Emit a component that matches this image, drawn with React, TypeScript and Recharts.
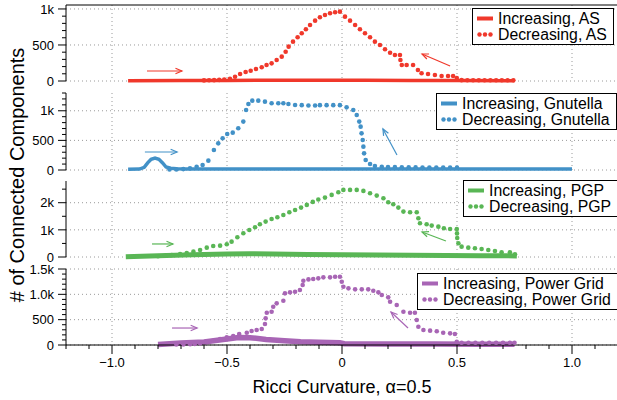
import React from "react"
import { CartesianGrid, Legend, Line, LineChart, ReferenceLine, XAxis, YAxis } from "recharts"

const FONT = "'Liberation Sans', Arial, Helvetica, sans-serif"

// shared x axis
const xMajor = [-1, -0.5, 0, 0.5, 1]
const xMajorLabels = ["\u22121.0", "\u22120.5", "0", "0.5", "1.0"]
const xTicks = [-1.2, -1.1, -1, -0.9, -0.8, -0.7, -0.6, -0.5, -0.4, -0.3, -0.2, -0.1, 0, 0.1, 0.2, 0.3, 0.4, 0.5, 0.6, 0.7, 0.8, 0.9, 1, 1.1, 1.2]

// AS
const asIncX = [-0.93, -0.7, -0.5, -0.3, -0.1, 0.1, 0.3, 0.5, 0.75]
const asIncY = [4, 6, 8, 10, 12, 10, 8, 6, 4]
const asDecX = [-0.6, -0.578, -0.556, -0.534, -0.512, -0.487, -0.465, -0.443, -0.419, -0.397, -0.374, -0.349, -0.328, -0.306, -0.284, -0.262, -0.245, -0.232, -0.213, -0.193, -0.175, -0.157, -0.139, -0.117, -0.096, -0.074, -0.052, -0.03, -0.009, 0.013, 0.035, 0.057, 0.078, 0.1, 0.122, 0.143, 0.165, 0.187, 0.209, 0.23, 0.252, 0.254, 0.26, 0.281, 0.309, 0.33, 0.346, 0.374, 0.404, 0.433, 0.461, 0.483, 0.499, 0.52, 0.545, 0.57, 0.595, 0.62, 0.645, 0.67, 0.695, 0.72, 0.745]
const asDecY = [8, 10, 12, 15, 20, 32, 60, 97, 125, 143, 167, 190, 222, 245, 292, 338, 407, 477, 546, 607, 662, 718, 778, 838, 885, 917, 940, 954, 963, 893, 838, 778, 718, 662, 607, 546, 500, 440, 393, 361, 361, 292, 222, 222, 222, 153, 107, 97, 83, 69, 69, 69, 42, 12, 10, 10, 10, 10, 10, 10, 10, 10, 10]
const asYTicks = [0, 100, 200, 300, 400, 500, 600, 700, 800, 900, 1000]
const asYMajor = [0, 500, 1000]
const asYLabels = ["0", "500", "1k"]
const asArrows = [[-0.848, 139, -0.696, 139], [0.47, 208, 0.348, 375]]

// Gnutella
const gnIncX = [-0.93, -0.88, -0.86, -0.845, -0.83, -0.813, -0.796, -0.78, -0.765, -0.745, -0.72, -0.68, -0.6, -0.3, 0, 0.3, 0.6, 1.0]
const gnIncY = [14, 16, 45, 120, 180, 200, 180, 120, 50, 30, 22, 18, 15, 15, 15, 15, 15, 15]
const gnDecX = [-0.75, -0.72, -0.69, -0.661, -0.632, -0.606, -0.581, -0.557, -0.538, -0.519, -0.499, -0.475, -0.451, -0.429, -0.417, -0.407, -0.39, -0.364, -0.335, -0.306, -0.277, -0.255, -0.233, -0.204, -0.175, -0.146, -0.117, -0.096, -0.067, -0.038, -0.009, 0.02, 0.049, 0.064, 0.075, 0.081, 0.085, 0.09, 0.093, 0.096, 0.103, 0.122, 0.143, 0.173, 0.2, 0.23, 0.26, 0.29, 0.32, 0.35, 0.38, 0.41, 0.44, 0.47, 0.5]
const gnDecY = [8, 10, 15, 28, 56, 84, 158, 338, 450, 535, 608, 631, 704, 817, 1014, 1115, 1171, 1171, 1154, 1126, 1126, 1126, 1115, 1098, 1095, 1090, 1090, 1095, 1095, 1095, 1095, 1058, 1014, 929, 817, 732, 619, 507, 394, 281, 169, 101, 68, 56, 50, 48, 46, 45, 44, 43, 42, 42, 41, 40, 40]
const gnYTicks = [0, 100, 200, 300, 400, 500, 600, 700, 800, 900, 1000, 1100, 1200, 1300]
const gnYMajor = [0, 500, 1000]
const gnYLabels = ["0", "500", "1k"]
const gnArrows = [[-0.857, 304, -0.717, 304], [0.239, 253, 0.178, 693]]

// PGP
const pgIncX = [-0.94, -0.8, -0.65, -0.5, -0.4, -0.3, -0.15, 0, 0.15, 0.3, 0.45, 0.6, 0.76]
const pgIncY = [10, 50, 85, 110, 120, 115, 95, 80, 70, 62, 55, 48, 40]
const pgDecX = [-0.8, -0.77, -0.74, -0.704, -0.675, -0.646, -0.617, -0.588, -0.56, -0.53, -0.501, -0.48, -0.455, -0.429, -0.403, -0.378, -0.357, -0.332, -0.306, -0.281, -0.255, -0.229, -0.204, -0.178, -0.153, -0.127, -0.103, -0.074, -0.045, -0.016, 0.006, 0.035, 0.064, 0.093, 0.122, 0.151, 0.18, 0.201, 0.223, 0.245, 0.267, 0.296, 0.325, 0.332, 0.339, 0.368, 0.39, 0.419, 0.443, 0.47, 0.499, 0.5, 0.501, 0.506, 0.52, 0.549, 0.578, 0.607, 0.636, 0.665, 0.694, 0.73, 0.752]
const pgDecY = [30, 45, 70, 111, 148, 197, 258, 344, 406, 418, 467, 566, 726, 873, 996, 1095, 1205, 1304, 1402, 1464, 1550, 1648, 1734, 1820, 1919, 2030, 2120, 2189, 2288, 2386, 2472, 2472, 2472, 2435, 2349, 2263, 2165, 2017, 1943, 1820, 1673, 1648, 1648, 1427, 1243, 1205, 1156, 1119, 1058, 1033, 1033, 870, 700, 504, 381, 344, 320, 295, 258, 221, 172, 172, 98]
const pgYTicks = [0, 500, 1000, 1500, 2000, 2500]
const pgYMajor = [0, 1000, 2000]
const pgYLabels = ["0", "1k", "2k"]
const pgArrows = [[-0.826, 480, -0.735, 480], [0.452, 590, 0.348, 922]]

// Power Grid
const pwIncX = [-0.8, -0.7, -0.6, -0.5, -0.45, -0.4, -0.33, -0.25, -0.18, -0.1, -0.01, 0.01, 0.2, 0.4, 0.6, 0.75]
const pwIncY = [10, 40, 60, 120, 150, 145, 110, 85, 65, 55, 45, 25, 20, 18, 15, 15]
const pwDecX = [-0.72, -0.69, -0.66, -0.64, -0.617, -0.588, -0.56, -0.53, -0.501, -0.473, -0.447, -0.414, -0.393, -0.371, -0.349, -0.335, -0.332, -0.327, -0.306, -0.299, -0.284, -0.255, -0.248, -0.226, -0.204, -0.183, -0.171, -0.168, -0.146, -0.125, -0.103, -0.081, -0.052, -0.03, -0.009, -0.001, 0.006, 0.028, 0.057, 0.086, 0.114, 0.136, 0.158, 0.173, 0.201, 0.209, 0.238, 0.267, 0.296, 0.317, 0.325, 0.332, 0.354, 0.383, 0.412, 0.44, 0.47, 0.491, 0.499, 0.52, 0.55, 0.58, 0.61, 0.64, 0.67, 0.7, 0.73, 0.75]
const pwDecY = [10, 12, 15, 22, 33, 55, 85, 115, 151, 177, 217, 243, 276, 296, 316, 414, 526, 637, 657, 756, 822, 874, 1019, 1039, 1052, 1085, 1183, 1268, 1295, 1302, 1315, 1335, 1335, 1348, 1348, 1249, 1150, 1118, 1098, 1098, 1098, 1071, 1039, 986, 940, 854, 789, 657, 637, 637, 493, 361, 296, 283, 270, 243, 230, 217, 65, 45, 45, 45, 45, 45, 45, 45, 45, 45]
const pwYTicks = [0, 100, 200, 300, 400, 500, 600, 700, 800, 900, 1000, 1100, 1200, 1300, 1400, 1500]
const pwYMajor = [0, 500, 1000, 1500]
const pwYLabels = ["0", "500", "1.0k", "1.5k"]
const pwArrows = [[-0.739, 335, -0.63, 335], [0.287, 335, 0.213, 651]]

const zip = (xs: number[], ys: number[]) => xs.map((x, i) => ({ x, y: ys[i] }))

function YTick({ x, y, payload, majors, labels }: any) {
  const i = majors.indexOf(payload.value)
  const major = i >= 0
  return (
    <g>
      <line x1={x} y1={y} x2={x - (major ? 8 : 4)} y2={y} stroke="#000" strokeWidth={1} />
      {major && (
        <text x={x - 12} y={y} dy="0.36em" textAnchor="end" fontSize={13} fill="#000" fontFamily={FONT}>
          {labels[i]}
        </text>
      )}
    </g>
  )
}

function XTick({ x, y, payload }: any) {
  const i = xMajor.indexOf(payload.value)
  const major = i >= 0
  return (
    <g>
      <line x1={x} y1={y} x2={x} y2={y + (major ? 9 : 4)} stroke="#000" strokeWidth={1} />
      {major && (
        <text x={x} y={y + 17} dy="0.36em" textAnchor="middle" fontSize={13} fill="#000" fontFamily={FONT}>
          {xMajorLabels[i]}
        </text>
      )}
    </g>
  )
}

function Arrow({ x1, y1, x2, y2, stroke }: any) {
  const a = Math.atan2(y2 - y1, x2 - x1)
  const h = 7
  const p1 = [x2 - h * Math.cos(a - 0.4), y2 - h * Math.sin(a - 0.4)]
  const p2 = [x2 - h * Math.cos(a + 0.4), y2 - h * Math.sin(a + 0.4)]
  return (
    <g>
      <line x1={x1} y1={y1} x2={x2} y2={y2} stroke={stroke} strokeWidth={1.2} />
      <polyline points={`${p1[0]},${p1[1]} ${x2},${y2} ${p2[0]},${p2[1]}`} fill="none" stroke={stroke} strokeWidth={1.2} />
    </g>
  )
}

function LegendBox({ color, name }: { color: string; name: string }) {
  return (
    <div
      style={{
        border: "1px solid #000",
        background: "#fff",
        padding: "2px 6px 2px 4px",
        fontFamily: FONT,
        fontSize: 15.8,
        lineHeight: "15.5px",
        color: "#000",
        whiteSpace: "nowrap",
      }}
    >
      <div style={{ display: "flex", alignItems: "center" }}>
        <svg width={16} height={15}>
          <rect x={0} y={5.5} width={16} height={4} fill={color} />
        </svg>
        <span style={{ marginLeft: 5 }}>Increasing, {name}</span>
      </div>
      <div style={{ display: "flex", alignItems: "center" }}>
        <svg width={16} height={15}>
          <circle cx={2.5} cy={7.5} r={2.2} fill={color} />
          <circle cx={8} cy={7.5} r={2.2} fill={color} />
          <circle cx={13.5} cy={7.5} r={2.2} fill={color} />
        </svg>
        <span style={{ marginLeft: 5 }}>Decreasing, {name}</span>
      </div>
    </div>
  )
}

type PanelProps = {
  top: number
  plotH: number
  yMax: number
  yTicks: number[]
  yMajor: number[]
  yLabels: string[]
  color: string
  name: string
  incX: number[]
  incY: number[]
  incWidth: number
  decX: number[]
  decY: number[]
  arrows: number[][]
  legendLeft: number
  legendTop: number
  bottom?: boolean
  frameTop?: boolean
}

function Panel(p: PanelProps) {
  const mt = 10
  const mb = p.bottom ? 0 : 7
  const xh = p.bottom ? 55 : 0
  return (
    <div style={{ position: "absolute", left: 0, top: p.top - mt }}>
      <LineChart width={618} height={mt + p.plotH + mb + xh} margin={{ top: mt, right: 0, bottom: mb, left: 0 }}>
        <CartesianGrid
          horizontal
          vertical
          horizontalValues={p.yMajor}
          verticalValues={xMajor}
          stroke="#9a9a9a"
          strokeDasharray="1 3"
        />
        <XAxis
          type="number"
          dataKey="x"
          domain={[-1.2, 1.2]}
          ticks={xTicks}
          interval={0}
          hide={!p.bottom}
          height={xh}
          tickSize={0}
          tickMargin={0}
          tickLine={false}
          axisLine={{ stroke: "#000" }}
          tick={<XTick />}
          allowDataOverflow
          label={(lp: any) => {
            const vb = lp.viewBox
            return (
              <text x={vb.x + vb.width / 2} y={vb.y + 48} textAnchor="middle" fontSize={18} fill="#000" fontFamily={FONT}>
                Ricci Curvature, α=0.5
              </text>
            )
          }}
        />
        <YAxis
          type="number"
          width={66}
          domain={[0, p.yMax]}
          ticks={p.yTicks}
          interval={0}
          tickSize={0}
          tickMargin={0}
          tickLine={false}
          axisLine={{ stroke: "#000" }}
          tick={(tp: any) => <YTick {...tp} majors={p.yMajor} labels={p.yLabels} />}
        />
        {p.frameTop && <ReferenceLine y={p.yMax} stroke="#000" strokeWidth={1} ifOverflow="visible" />}
        <Line
          data={zip(p.incX, p.incY)}
          dataKey="y"
          type="linear"
          stroke={p.color}
          strokeWidth={p.incWidth}
          dot={false}
          activeDot={false}
          isAnimationActive={false}
        />
        <Line
          data={zip(p.decX, p.decY)}
          dataKey="y"
          stroke="none"
          dot={{ r: 2.3, fill: p.color, stroke: "none", strokeWidth: 0 }}
          activeDot={false}
          isAnimationActive={false}
        />
        {p.arrows.map((a, i) => (
          <ReferenceLine
            key={i}
            segment={[
              { x: a[0], y: a[1] },
              { x: a[2], y: a[3] },
            ]}
            stroke={p.color}
            ifOverflow="visible"
            shape={(sp: any) => <Arrow {...sp} stroke={p.color} />}
          />
        ))}
        <Legend
          layout="vertical"
          align="center"
          verticalAlign="middle"
          wrapperStyle={{ left: p.legendLeft, top: p.legendTop + mt, width: "auto", height: "auto" }}
          content={() => <LegendBox color={p.color} name={p.name} />}
        />
      </LineChart>
    </div>
  )
}

export default function App() {
  return (
    <div
      style={{
        position: "absolute",
        left: 0,
        top: 0,
        width: 617,
        height: 400,
        overflow: "hidden",
        background: "#fff",
        fontFamily: FONT,
      }}
    >
      <Panel
        top={5}
        plotH={76}
        yMax={1055}
        yTicks={asYTicks}
        yMajor={asYMajor}
        yLabels={asYLabels}
        color="#f0382b"
        name="AS"
        incX={asIncX}
        incY={asIncY}
        incWidth={3.5}
        decX={asDecX}
        decY={asDecY}
        arrows={asArrows}
        legendLeft={472}
        legendTop={3}
        frameTop
      />
      <Panel
        top={93}
        plotH={77}
        yMax={1300}
        yTicks={gnYTicks}
        yMajor={gnYMajor}
        yLabels={gnYLabels}
        color="#4291c7"
        name="Gnutella"
        incX={gnIncX}
        incY={gnIncY}
        incWidth={3.5}
        decX={gnDecX}
        decY={gnDecY}
        arrows={gnArrows}
        legendLeft={436}
        legendTop={0}
      />
      <Panel
        top={181}
        plotH={76}
        yMax={2800}
        yTicks={pgYTicks}
        yMajor={pgYMajor}
        yLabels={pgYLabels}
        color="#59b655"
        name="PGP"
        incX={pgIncX}
        incY={pgIncY}
        incWidth={5}
        decX={pgDecX}
        decY={pgDecY}
        arrows={pgArrows}
        legendLeft={463}
        legendTop={-1}
      />
      <Panel
        top={269}
        plotH={76}
        yMax={1500}
        yTicks={pwYTicks}
        yMajor={pwYMajor}
        yLabels={pwYLabels}
        color="#a865b5"
        name="Power Grid"
        incX={pwIncX}
        incY={pwIncY}
        incWidth={5.5}
        decX={pwDecX}
        decY={pwDecY}
        arrows={pwArrows}
        legendLeft={417}
        legendTop={4}
        bottom
      />
      <svg width={40} height={400} style={{ position: "absolute", left: 0, top: 0 }}>
        <text transform="translate(23.5,175) rotate(-90)" textAnchor="middle" fontSize={20} fill="#000" fontFamily={FONT}>
          # of Connected Components
        </text>
      </svg>
    </div>
  )
}
